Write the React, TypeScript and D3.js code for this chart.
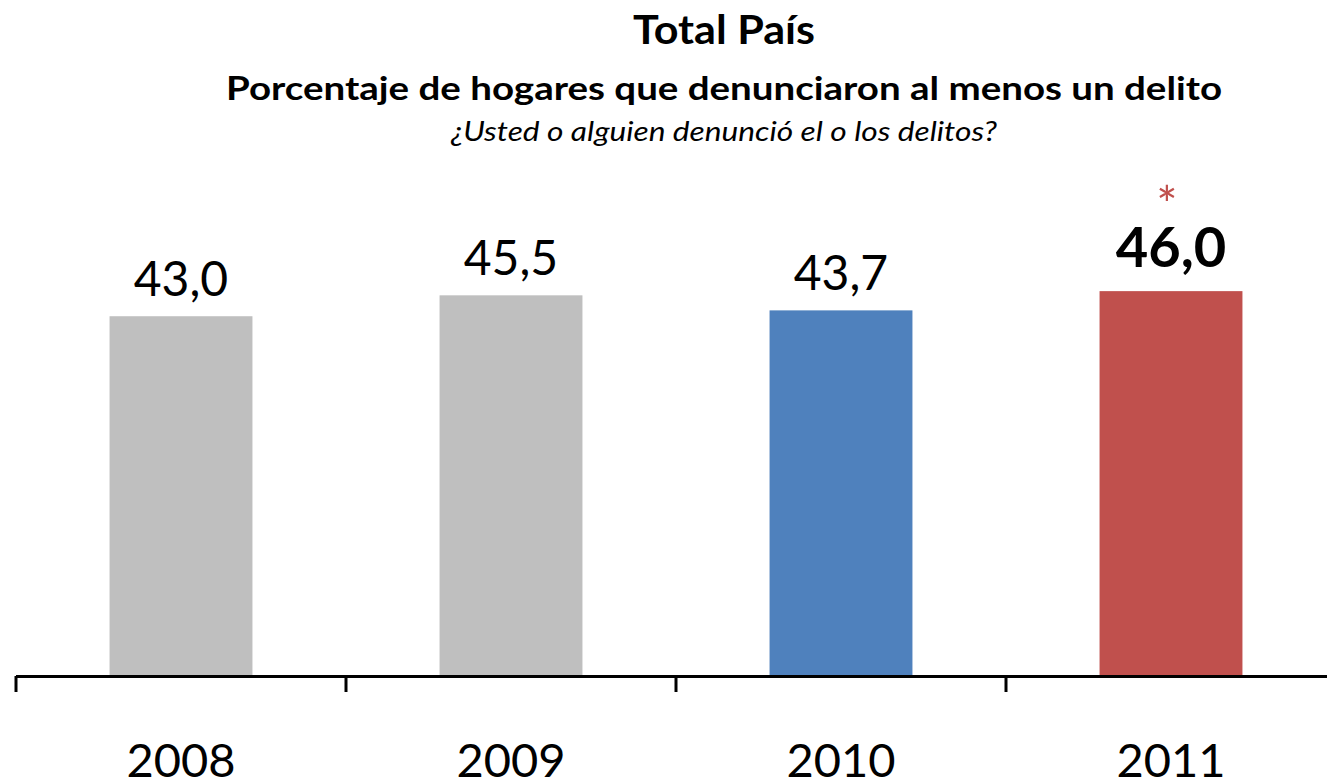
import React from "react";
import * as d3 from "d3";

const years = ["2008", "2009", "2010", "2011"];
const values = [43.0, 45.5, 43.7, 46.0];
const barColors = ["#BFBFBF", "#BFBFBF", "#4F81BD", "#C0504D"];
const highlighted = [false, false, false, true];

const W = 1327;
const H = 783;
const FONT = "Lato, 'Open Sans', sans-serif";

export default function App() {
  const x = d3
    .scaleBand<string>()
    .domain(years)
    .range([16, 1336])
    .paddingInner(0.567)
    .paddingOuter(0.567 / 2);
  const y = d3.scaleLinear().domain([0, 60]).range([676, 174]);
  const step = x.step();
  const x0 = 16;
  const tickXs = d3.range(years.length + 1).map((i) => x0 + i * step);
  const fmt = (v: number) => v.toFixed(1).replace(".", ",");

  return (
    <svg
      width={W}
      height={H}
      style={{ position: "absolute", left: 0, top: 0, background: "#fff" }}
      fontFamily={FONT}
    >
      <text x={724} y={44} textAnchor="middle" fontWeight="bold" fontSize={40} fill="#000" textLength={182} lengthAdjust="spacingAndGlyphs">
        Total País
      </text>
      <text x={724} y={100} textAnchor="middle" fontWeight="bold" fontSize={33} fill="#000" textLength={996} lengthAdjust="spacingAndGlyphs">
        Porcentaje de hogares que denunciaron al menos un delito
      </text>
      <text x={724} y={141} textAnchor="middle" fontStyle="italic" fontSize={27} fill="#000" textLength={546} lengthAdjust="spacingAndGlyphs">
        ¿Usted o alguien denunció el o los delitos?
      </text>

      {years.map((yr, i) => (
        <rect
          key={yr}
          x={x(yr)}
          y={y(values[i])}
          width={x.bandwidth()}
          height={y(0) - y(values[i])}
          fill={barColors[i]}
        />
      ))}

      {years.map((yr, i) => (
        <text
          key={"v" + yr}
          x={(x(yr) as number) + x.bandwidth() / 2}
          y={y(values[i]) - (highlighted[i] ? 24 : 20)}
          textAnchor="middle"
          fontSize={highlighted[i] ? 56 : 48}
          fontWeight={highlighted[i] ? "bold" : "normal"}
          fill="#000"
        >
          {fmt(values[i])}
        </text>
      ))}
      {years.map((yr, i) =>
        highlighted[i] ? (
          <text
            key={"s" + yr}
            x={(x(yr) as number) + x.bandwidth() / 2 - 4}
            y={y(values[i]) - 68}
            textAnchor="middle"
            fontSize={50}
            fill="#C0504D"
          >
            *
          </text>
        ) : null
      )}

      <line x1={16} x2={W} y1={676.5} y2={676.5} stroke="#000" strokeWidth={3} />
      {tickXs.map((tx, i) => (
        <line key={"t" + i} x1={tx} x2={tx} y1={676} y2={692} stroke="#000" strokeWidth={3} />
      ))}

      {years.map((yr) => (
        <text
          key={"l" + yr}
          x={(x(yr) as number) + x.bandwidth() / 2}
          y={777}
          textAnchor="middle"
          fontSize={47}
          fill="#000"
        >
          {yr}
        </text>
      ))}
    </svg>
  );
}
